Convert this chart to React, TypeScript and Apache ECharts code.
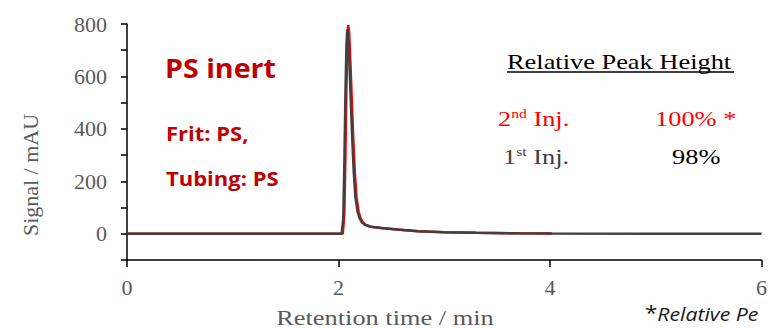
import React, { useEffect, useRef } from "react";
import * as echarts from "echarts";

// 1st injection (dark grey)
const time1st = [0, 1, 2.03, 2.045, 2.055, 2.065, 2.075, 2.083, 2.09, 2.1, 2.115, 2.13, 2.145, 2.16, 2.18, 2.2, 2.22, 2.25, 2.3, 2.4, 2.55, 2.75, 3.0, 3.3, 3.7, 4.0, 5.0, 6.0];
const signal1st = [0, 0, 0, 60, 260, 520, 720, 780, 765, 680, 520, 360, 230, 140, 85, 58, 44, 34, 27, 22, 16, 10, 6, 4, 2, 1, 0.5, 0];

// 2nd injection (red)
const time2nd = [0, 1, 2.04, 2.055, 2.065, 2.075, 2.085, 2.092, 2.1, 2.11, 2.125, 2.14, 2.155, 2.17, 2.19, 2.21, 2.23, 2.26, 2.31, 2.41, 2.56, 2.76, 3.0, 3.3, 3.7, 4.02];
const signal2nd = [0, 0, 0, 70, 290, 560, 750, 796, 770, 680, 520, 360, 230, 140, 85, 58, 44, 34, 27, 22, 16, 10, 6, 4, 2, 1];

const yTickLabels = ["0", "200", "400", "600", "800"];
const xTickLabels = ["0", "2", "4", "6"];

const SERIF = "Liberation Serif";
const SANS = "Open Sans";

export default function App() {
  const ref = useRef<HTMLDivElement>(null);

  useEffect(() => {
    document.body.style.margin = "0";
    if (!ref.current) return;
    const chart = echarts.init(ref.current, undefined, { renderer: "svg" });

    const pairs1 = time1st.map((t, i) => [t, signal1st[i]]);
    const pairs2 = time2nd.map((t, i) => [t, signal2nd[i]]);

    const serifText = (
      text: string,
      x: number,
      y: number,
      fill: string,
      extra: any = {}
    ) => ({
      type: "text",
      x,
      y,
      scaleX: 1.2,
      style: {
        text,
        fontFamily: SERIF,
        fontSize: 22,
        fill,
        align: "left",
        verticalAlign: "middle",
        ...extra,
      },
    });

    const option: any = {
      animation: false,
      grid: { left: 127, right: 3, top: 24, bottom: 69, containLabel: false },
      xAxis: {
        type: "value",
        min: 0,
        max: 6,
        interval: 2,
        splitLine: { show: false },
        axisLine: { show: true, onZero: false, lineStyle: { color: "#000", width: 1.5 } },
        axisTick: { show: true, length: 7, lineStyle: { color: "#000", width: 1.5 } },
        axisLabel: {
          margin: 16,
          color: "#595959",
          fontFamily: SERIF,
          fontSize: 22,
          formatter: (v: number) => (xTickLabels.includes(String(v)) ? String(v) : ""),
        },
      },
      yAxis: {
        type: "value",
        min: -100,
        max: 800,
        interval: 100,
        splitLine: { show: false },
        axisLine: { show: true, lineStyle: { color: "#000", width: 1.5 } },
        axisTick: { show: true, length: 6, lineStyle: { color: "#000", width: 1.5 } },
        axisLabel: {
          margin: 20,
          color: "#595959",
          fontFamily: SERIF,
          fontSize: 22,
          formatter: (v: number) => (yTickLabels.includes(String(v)) ? String(v) : ""),
        },
      },
      series: [
        {
          name: "2nd Inj.",
          type: "line",
          data: pairs2,
          showSymbol: false,
          lineStyle: { color: "#FF0000", width: 2.5 },
          z: 2,
        },
        {
          name: "1st Inj.",
          type: "line",
          data: pairs1,
          showSymbol: false,
          lineStyle: { color: "#404040", width: 2.5 },
          z: 3,
        },
      ],
      graphic: [
        {
          type: "text",
          x: 30,
          y: 175,
          rotation: Math.PI / 2,
          style: {
            text: "Signal / mAU",
            fontFamily: SERIF,
            fontSize: 22,
            fill: "#595959",
            align: "center",
            verticalAlign: "middle",
          },
        },
        {
          type: "text",
          x: 385,
          y: 317,
          scaleX: 1.2,
          style: {
            text: "Retention time / min",
            fontFamily: SERIF,
            fontSize: 22,
            fill: "#595959",
            align: "center",
            verticalAlign: "middle",
          },
        },
        {
          type: "text",
          x: 165,
          y: 68,
          scaleX: 1.1,
          style: {
            text: "PS inert",
            fontFamily: SANS,
            fontWeight: "bold",
            fontSize: 26,
            fill: "#C00000",
            align: "left",
            verticalAlign: "middle",
          },
        },
        {
          type: "text",
          x: 166,
          y: 133,
          scaleX: 1.1,
          style: {
            text: "Frit: PS,",
            fontFamily: SANS,
            fontWeight: "bold",
            fontSize: 20,
            fill: "#C00000",
            align: "left",
            verticalAlign: "middle",
          },
        },
        {
          type: "text",
          x: 166,
          y: 178,
          scaleX: 1.1,
          style: {
            text: "Tubing: PS",
            fontFamily: SANS,
            fontWeight: "bold",
            fontSize: 20,
            fill: "#C00000",
            align: "left",
            verticalAlign: "middle",
          },
        },
        serifText("Relative Peak Height", 507, 61, "#000"),
        {
          type: "line",
          shape: { x1: 507, y1: 72, x2: 734, y2: 72 },
          style: { stroke: "#000", lineWidth: 1.5 },
        },
        serifText("2{sup|nd} Inj.", 498, 118, "#FF0000", {
          rich: {
            sup: { fontSize: 13, fontFamily: SERIF, fill: "#FF0000", verticalAlign: "top", lineHeight: 13 },
          },
        }),
        serifText("100% *", 655, 118, "#FF0000"),
        serifText("1{sup|st} Inj.", 503, 156, "#404040", {
          rich: {
            sup: { fontSize: 13, fontFamily: SERIF, fill: "#404040", verticalAlign: "top", lineHeight: 13 },
          },
        }),
        serifText("98%", 672, 156, "#000"),
        {
          type: "text",
          x: 645,
          y: 313,
          scaleX: 1.12,
          style: {
            text: "{s|*}{t|Relative Pe}",
            fill: "#1a1a1a",
            align: "left",
            verticalAlign: "middle",
            rich: {
              s: { fontSize: 20, fontFamily: SANS, fill: "#1a1a1a", lineHeight: 22, verticalAlign: "top" },
              t: { fontSize: 19, fontFamily: SANS, fontStyle: "italic", fill: "#1a1a1a", lineHeight: 22 },
            },
          },
        },
      ],
    };

    chart.setOption(option);
    return () => chart.dispose();
  }, []);

  return <div ref={ref} style={{ width: 770, height: 329 }} />;
}
